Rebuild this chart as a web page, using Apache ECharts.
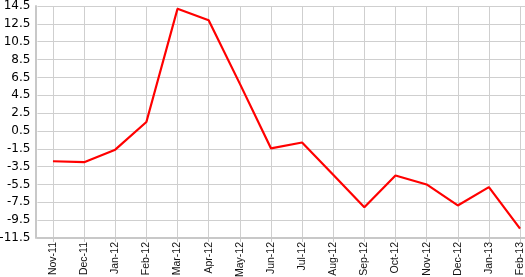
<!DOCTYPE html>
<html>
<head>
<meta charset="utf-8">
<script src="https://cdn.jsdelivr.net/npm/echarts@6/dist/echarts.min.js"></script>
<style>html,body{margin:0;padding:0;background:#fff;}#c{width:525px;height:277px;}</style>
</head>
<body>
<div id="c"></div>
<script>
const categories = ['Nov-11','Dec-11','Jan-12','Feb-12','Mar-12','Apr-12','May-12','Jun-12','Jul-12','Aug-12','Sep-12','Oct-12','Nov-12','Dec-12','Jan-13','Feb-13'];
const values = [-2.9, -3.0, -1.6, 1.5, 14.2, 12.9, 5.8, -1.45, -0.8, -4.4, -8.05, -4.5, -5.5, -7.85, -5.8, -10.45];
const yTicks = [-11.5, -9.5, -7.5, -5.5, -3.5, -1.5, 0.5, 2.5, 4.5, 6.5, 8.5, 10.5, 12.5, 14.5];

const chart = echarts.init(document.getElementById('c'), null, {renderer: 'canvas'});
chart.setOption({
  animation: false,
  backgroundColor: '#fff',
  grid: {left: 37.4, right: -10.6, top: 6, bottom: 39, containLabel: false, outerBoundsMode: 'none'},
  xAxis: {
    type: 'category',
    data: categories,
    boundaryGap: true,
    axisLine: {onZero: false, lineStyle: {color: '#c8c8c8', width: 2}},
    axisTick: {show: true, alignWithLabel: true, length: 4, lineStyle: {color: '#c8c8c8'}},
    axisLabel: {rotate: 90, margin: 4, interval: 0, color: '#111', fontFamily: 'Liberation Sans', fontSize: 10.5, padding: [8, 0, 0, 0]},
    splitLine: {show: true, alignWithLabel: true, lineStyle: {color: '#cfcfcf', width: 1}}
  },
  yAxis: {
    type: 'value',
    min: -11.5,
    max: 14.5,
    offset: 2,
    axisLine: {show: true, lineStyle: {color: '#c8c8c8', width: 2}},
    axisTick: {show: false, customValues: yTicks},
    axisLabel: {customValues: yTicks, margin: 5, color: '#000', fontFamily: 'DejaVu Sans', fontSize: 12,
      formatter: v => v.toFixed(1)},
    splitLine: {show: true, lineStyle: {color: '#cfcfcf', width: 1}}
  },
  series: [{
    type: 'line',
    data: values,
    symbol: 'none',
    lineStyle: {color: '#ff0000', width: 2.2},
    itemStyle: {color: '#ff0000'}
  }]
});
</script>
</body>
</html>
